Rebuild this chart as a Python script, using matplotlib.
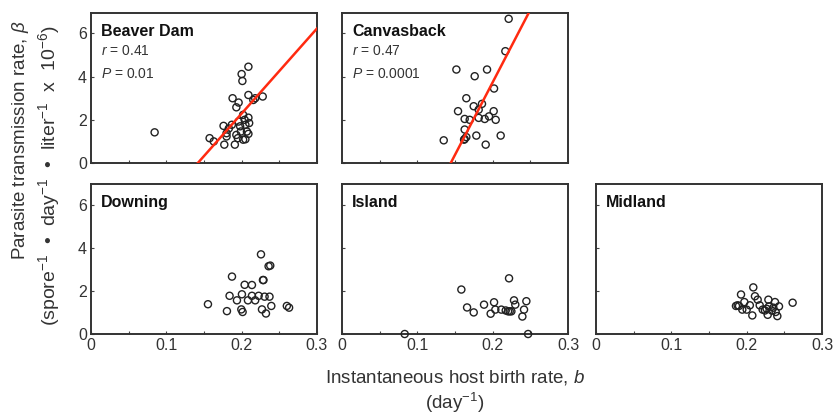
import numpy as np
import matplotlib
matplotlib.use('Agg')
import matplotlib.pyplot as plt

plt.rcParams['font.family'] = ['Liberation Sans', 'DejaVu Sans']
plt.rcParams['mathtext.fontset'] = 'custom'
plt.rcParams['mathtext.rm'] = 'Liberation Sans'
plt.rcParams['mathtext.it'] = 'Liberation Sans:italic'
plt.rcParams['mathtext.bf'] = 'Liberation Sans:bold'

# 数据: 出生率 b 与传播率 beta
beaver_b = [0.0845, 0.1575, 0.163, 0.177, 0.176, 0.180, 0.183, 0.187, 0.188, 0.193,
            0.196, 0.191, 0.193, 0.195, 0.198, 0.200, 0.201, 0.202, 0.204, 0.202,
            0.205, 0.207, 0.209, 0.209, 0.210, 0.205, 0.209, 0.209, 0.2155, 0.218,
            0.228, 0.196, 0.199, 0.180]
beaver_beta = [1.42, 1.15, 1.0, 0.85, 1.72, 1.38, 1.6, 1.77, 3.0, 2.58,
               2.8, 0.85, 1.3, 1.15, 1.7, 4.12, 3.8, 2.23, 2.0, 1.08,
               1.77, 1.46, 4.46, 2.1, 1.85, 1.1, 1.35, 3.15, 2.92, 3.0,
               3.08, 1.92, 1.46, 1.23]

canvas_b = [0.2212, 0.2168, 0.1518, 0.1925, 0.1761, 0.2018, 0.165, 0.1748, 0.1858, 0.154,
            0.1814, 0.2013, 0.1628, 0.1695, 0.1814, 0.1894, 0.1951, 0.204, 0.1628, 0.135,
            0.1628, 0.165, 0.1783, 0.2106, 0.1907, 0.162]
canvas_beta = [6.68, 5.18, 4.33, 4.33, 4.02, 3.45, 3.0, 2.63, 2.74, 2.4,
               2.47, 2.4, 2.04, 2.0, 2.09, 2.04, 2.16, 2.0, 1.55, 1.05,
               1.11, 1.2, 1.27, 1.27, 0.85, 1.08]

downing_b = [0.2257, 0.2358, 0.238, 0.2283, 0.229, 0.1872, 0.204, 0.2137, 0.184, 0.2004,
             0.1938, 0.2084, 0.2137, 0.218, 0.2226, 0.2305, 0.237, 0.1553, 0.1805, 0.1996,
             0.2013, 0.227, 0.2323, 0.2394, 0.260, 0.263]
downing_beta = [3.69, 3.14, 3.17, 2.5, 2.5, 2.66, 2.28, 2.27, 1.77, 1.84,
                1.56, 1.56, 1.77, 1.56, 1.77, 1.73, 1.73, 1.38, 1.06, 1.14,
                1.02, 1.14, 0.95, 1.3, 1.3, 1.22]

island_b = [0.2217, 0.1584, 0.1885, 0.2018, 0.166, 0.1748, 0.1973, 0.2035, 0.2115, 0.2173,
            0.2204, 0.2226, 0.2248, 0.2283, 0.230, 0.2447, 0.2416, 0.2394, 0.0832, 0.247]
island_beta = [2.58, 2.06, 1.36, 1.47, 1.23, 1.0, 0.94, 1.13, 1.13, 1.09,
               1.05, 1.05, 1.05, 1.56, 1.36, 1.52, 1.13, 0.81, 0.0, 0.0]

midland_b = [0.2088, 0.1925, 0.211, 0.2146, 0.2288, 0.2376, 0.261, 0.1858, 0.188, 0.1898,
             0.1942, 0.200, 0.2042, 0.2173, 0.2212, 0.2265, 0.2296, 0.2332, 0.2354, 0.2429,
             0.2075, 0.2279, 0.2407, 0.2243, 0.2385, 0.1969]
midland_beta = [2.16, 1.83, 1.75, 1.59, 1.59, 1.48, 1.45, 1.3, 1.33, 1.3,
                1.13, 1.13, 1.33, 1.33, 1.13, 1.17, 1.28, 1.09, 1.22, 1.28,
                0.86, 0.89, 0.83, 1.09, 1.02, 1.48]

# 回归线 (斜率, 截距)
beaver_fit = (39.4, -5.59)
canvas_fit = (67.2, -9.70)

x_ticks = [0, 0.1, 0.2, 0.3]
x_minor = [0.05, 0.15, 0.25]
x_labels = ['0', '0.1', '0.2', '0.3']
y_ticks = [0, 2, 4, 6]

lakes = [
    ('Beaver Dam', beaver_b, beaver_beta, beaver_fit, ('0.41', '0.01')),
    ('Canvasback', canvas_b, canvas_beta, canvas_fit, ('0.47', '0.0001')),
    ('Downing', downing_b, downing_beta, None, None),
    ('Island', island_b, island_beta, None, None),
    ('Midland', midland_b, midland_beta, None, None),
]
# 面板位置 (left, bottom)
positions = [(0.1092, 0.6082), (0.4106, 0.6082),
             (0.1092, 0.1971), (0.4106, 0.1971), (0.7155, 0.1971)]
w, h = 0.2713, 0.3606

fig = plt.figure(figsize=(8.33, 4.16), dpi=100)

for i, (name, b, beta, fit, stats) in enumerate(lakes):
    left, bottom = positions[i]
    ax = fig.add_axes([left, bottom, w, h])
    ax.scatter(b, beta, s=26, facecolors='none', edgecolors='#222222', linewidths=1.0, zorder=3,
               clip_on=False)
    if fit is not None:
        xs = np.array([0.0, 0.3])
        ax.plot(xs, fit[0] * xs + fit[1], color='#ff2a10', lw=1.8, zorder=4)
    ax.set_xlim(0, 0.3)
    ax.set_ylim(0, 6.95)
    ax.set_xticks(x_ticks)
    ax.set_xticks(x_minor, minor=True)
    ax.set_xticklabels(x_labels)
    ax.set_yticks(y_ticks)
    ax.set_yticklabels([str(v) for v in y_ticks])
    ax.tick_params(which='both', direction='in', length=2.5, width=0.8, colors='#444444',
                   labelsize=11.5, labelcolor='#333333', pad=3)
    if bottom > 0.5:
        ax.tick_params(labelbottom=False)
    if left > 0.2:
        ax.tick_params(labelleft=False)
    for sp in ax.spines.values():
        sp.set_linewidth(1.4)
        sp.set_color('#333333')
    ax.text(0.045, 0.925, name, transform=ax.transAxes, fontsize=11.5, fontweight='bold',
            va='top', ha='left', color='#111111')
    if stats is not None:
        ax.text(0.045, 0.79, '$r$ = ' + stats[0], transform=ax.transAxes, fontsize=10,
                va='top', ha='left', color='#333333')
        ax.text(0.045, 0.64, '$P$ = ' + stats[1], transform=ax.transAxes, fontsize=10,
                va='top', ha='left', color='#333333')

fig.text(0.025, 0.663, r'Parasite transmission rate, $\beta$', rotation=90,
         ha='center', va='center', fontsize=13.5, color='#333333')
fig.text(0.059, 0.577, r'(spore$^{-1}$  •  day$^{-1}$  •  liter$^{-1}$  x  10$^{-6}$)', rotation=90,
         ha='center', va='center', fontsize=14, color='#333333')
fig.text(0.546, 0.092, r'Instantaneous host birth rate, $b$', ha='center', va='center',
         fontsize=13.5, color='#333333')
fig.text(0.546, 0.032, r'(day$^{-1}$)', ha='center', va='center', fontsize=13.5, color='#333333')

plt.savefig('out.png', dpi=100)
